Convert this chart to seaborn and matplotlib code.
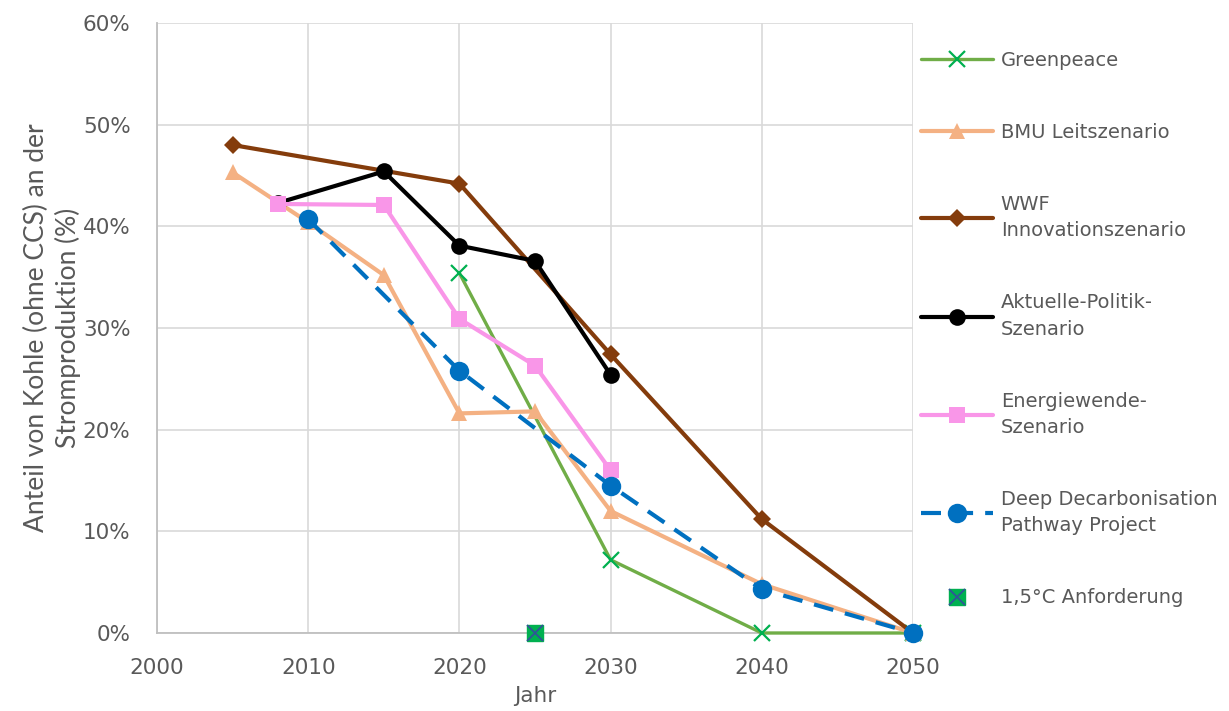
import matplotlib
matplotlib.use("Agg")
import matplotlib.pyplot as plt
import seaborn as sns
from matplotlib.ticker import FuncFormatter
from matplotlib.lines import Line2D

# values (share of coal in %, by year)
gp_years = [2020, 2030, 2040, 2050]
gp_vals = [35.4, 7.2, 0.0, 0.0]

bmu_years = [2005, 2010, 2015, 2020, 2025, 2030, 2040, 2050]
bmu_vals = [45.3, 40.4, 35.2, 21.6, 21.8, 12.0, 4.8, 0.0]

wwf_years = [2005, 2020, 2030, 2040, 2050]
wwf_vals = [48.0, 44.2, 27.4, 11.2, 0.0]

akt_years = [2008, 2015, 2020, 2025, 2030]
akt_vals = [42.3, 45.4, 38.1, 36.6, 25.4]

ew_years = [2008, 2015, 2020, 2025, 2030]
ew_vals = [42.2, 42.1, 30.9, 26.3, 16.0]

ddpp_years = [2010, 2020, 2030, 2040, 2050]
ddpp_vals = [40.7, 25.8, 14.5, 4.3, 0.0]

req_years = [2025]
req_vals = [0.0]

x_ticks = [2000, 2010, 2020, 2030, 2040, 2050]
y_ticks = [0, 10, 20, 30, 40, 50, 60]

sns.set_style("whitegrid")
plt.rcParams["font.family"] = ["DejaVu Sans"]
txt = "#595959"

fig = plt.figure(figsize=(12.29, 7.11), dpi=100)
ax = fig.add_axes([157 / 1229, 1 - 633 / 711, (913 - 157) / 1229, (633 - 23) / 711])

lw = 3.0
sns.lineplot(x=gp_years, y=gp_vals, ax=ax, color="#70AD47", lw=2.4, marker="x",
             markersize=11, markeredgewidth=1.6, markeredgecolor="#00B050",
             label="Greenpeace", clip_on=False, zorder=3)
sns.lineplot(x=bmu_years, y=bmu_vals, ax=ax, color="#F4B183", lw=lw, marker="^",
             markersize=12, markeredgewidth=0, label="BMU Leitszenario", clip_on=False, zorder=3)
sns.lineplot(x=wwf_years, y=wwf_vals, ax=ax, color="#843C0C", lw=lw, marker="D",
             markersize=9, markeredgewidth=0, label="WWF\nInnovationszenario", clip_on=False, zorder=3)
sns.lineplot(x=akt_years, y=akt_vals, ax=ax, color="black", lw=lw, marker="o",
             markersize=12, markeredgewidth=0, label="Aktuelle-Politik-\nSzenario", clip_on=False, zorder=4)
sns.lineplot(x=ew_years, y=ew_vals, ax=ax, color="#F996E8", lw=lw, marker="s",
             markersize=12, markeredgewidth=0, label="Energiewende-\nSzenario", clip_on=False, zorder=4)
sns.lineplot(x=ddpp_years, y=ddpp_vals, ax=ax, color="#0070C0", lw=lw, marker="o",
             markersize=14, markeredgewidth=0, linestyle=(0, (4.8, 2.9)),
             label="Deep Decarbonisation\nPathway Project", clip_on=False, zorder=5)
ax.plot(req_years, req_vals, linestyle="none", marker="s", markersize=12,
        markerfacecolor="#00B050", markeredgecolor="#00B050", clip_on=False, zorder=6)
ax.plot(req_years, req_vals, linestyle="none", marker="x", markersize=11,
        markeredgewidth=1.3, color="#2F5597", clip_on=False, zorder=7,
        label="1,5°C Anforderung")

# legend: combine the two marker layers of the 1,5°C entry
handles, labels = ax.get_legend_handles_labels()
sq = Line2D([], [], linestyle="none", marker="s", markersize=12,
            markerfacecolor="#00B050", markeredgecolor="#00B050")
handles[-1] = (sq, handles[-1])
leg = ax.legend(handles, labels, loc="upper left", bbox_to_anchor=(921 / 1229, 1 - 51 / 711),
                bbox_transform=fig.transFigure, frameon=False, fontsize=14,
                handlelength=3.7, handletextpad=0.4, labelspacing=2.72, borderpad=0,
                borderaxespad=0)
for t in leg.get_texts():
    t.set_color(txt)
    t.set_linespacing(1.5)

ax.set_xlim(2000, 2050)
ax.set_ylim(0, 60)
ax.set_xticks(x_ticks)
ax.set_yticks(y_ticks)
ax.yaxis.set_major_formatter(FuncFormatter(lambda v, p: f"{v:.0f}%"))
ax.tick_params(axis="both", length=0, labelsize=15.5, labelcolor=txt)
ax.tick_params(axis="x", pad=18)
ax.tick_params(axis="y", pad=19)
ax.grid(True, color="#D9D9D9", lw=1.2)
for s in ["top", "right"]:
    ax.spines[s].set_visible(False)
for s in ["left", "bottom"]:
    ax.spines[s].set_color("#BFBFBF")
    ax.spines[s].set_linewidth(1.3)

ax.set_xlabel("Jahr", fontsize=15.5, color=txt)
ax.xaxis.set_label_coords(0.5, -0.087)
ax.set_ylabel("Anteil von Kohle (ohne CCS) an der\nStromproduktion (%)", fontsize=19,
              color=txt, family="Lato", linespacing=1.3)
ax.yaxis.set_label_coords(-0.10, 0.5)

fig.savefig("out.png", dpi=100)
